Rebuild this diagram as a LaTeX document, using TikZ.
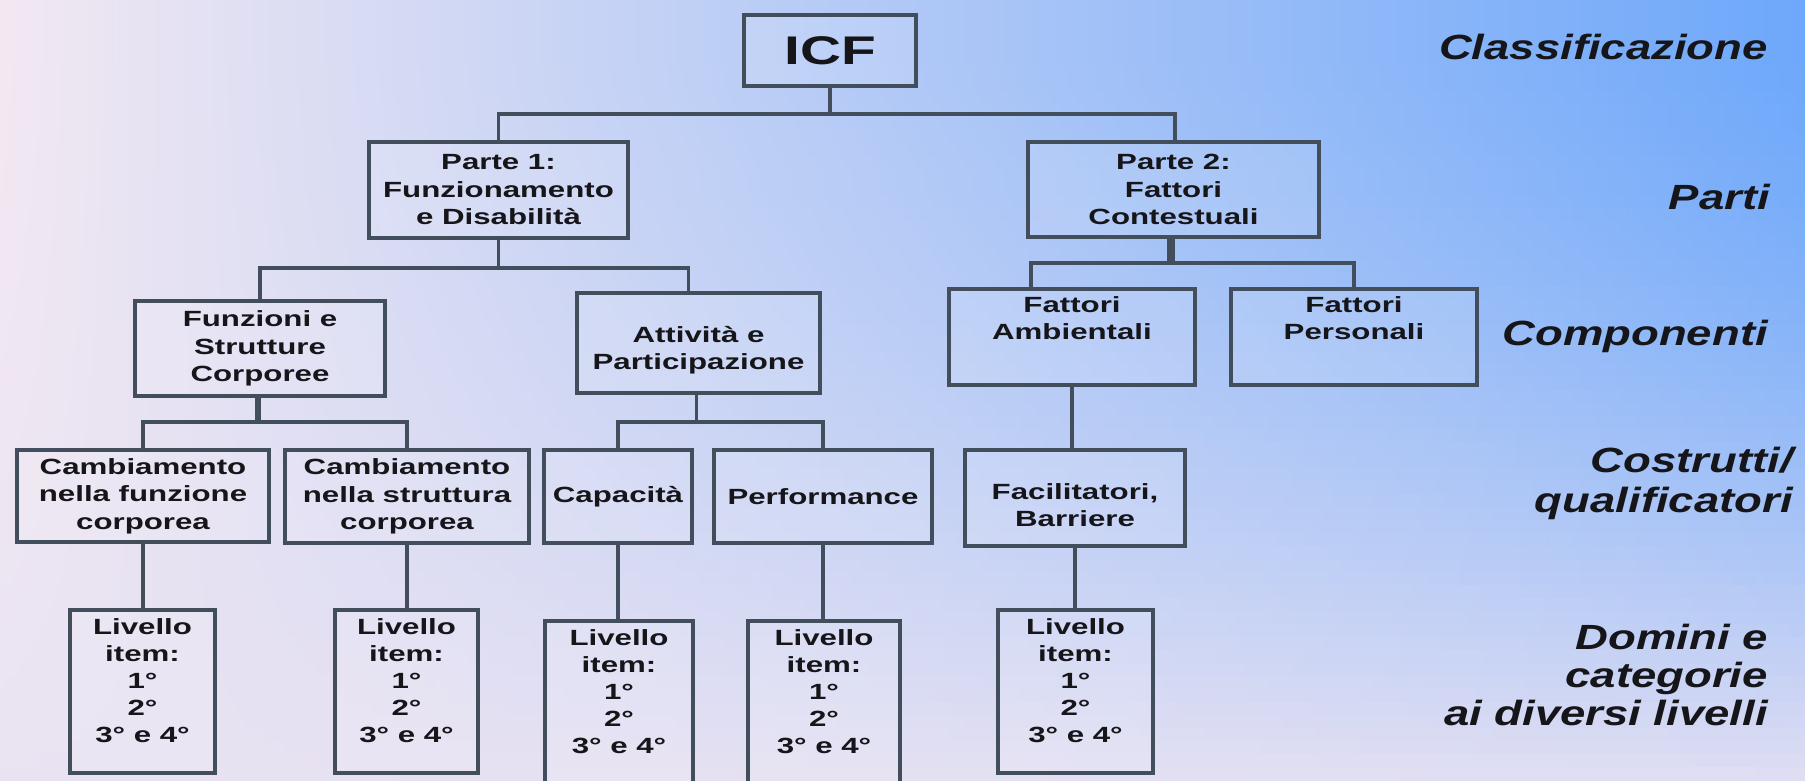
\documentclass[tikz,border=0pt]{standalone}
\usepackage{fontspec}
\newfontfamily\boxfont[FakeStretch=1.42]{Liberation Sans}
\newfontfamily\labfont[FakeStretch=1.3]{Liberation Sans}
\definecolor{bgA}{RGB}{242,232,242}
\definecolor{bgB}{RGB}{166,204,247}
\definecolor{bgC}{RGB}{110,168,250}
\definecolor{bgL}{RGB}{232,226,242}
\definecolor{edge}{RGB}{66,78,92}
\definecolor{ink}{RGB}{22,22,26}
\begin{document}
\begin{tikzpicture}[x=1pt,y=-1pt,
  box/.style={draw=edge, line width=3.5pt, fill=white, fill opacity=0.12, text opacity=1,
    inner sep=0pt, text=ink, align=center, font=\boxfont\bfseries\fontsize{22}{27.5}\selectfont},
  txt/.style={inner sep=0pt, text=ink, align=center, font=\boxfont\bfseries\fontsize{22}{27}\selectfont},
  conn/.style={draw=edge, line width=3.5pt},
  stem/.style={draw=edge, line width=8pt},
  lab/.style={inner sep=0pt, align=right, text=ink, font=\labfont\bfseries\itshape\fontsize{35}{39}\selectfont}]
\useasboundingbox (0,0) rectangle (1805,781);
\clip (0,0) rectangle (1805,781);
% background: horizontal gradient, fading to lavender towards the bottom
\foreach \i [evaluate=\i as \t using {int(92*pow(\i/59,1.7))}] in {0,...,59}{
  \shade[left color=bgL!\t!bgA, middle color=bgL!\t!bgB, right color=bgL!\t!bgC]
    (0,{\i*13.0167}) rectangle (1805,{(\i+1)*13.0167+1.5});
}

% level 0
\node[box, minimum width=172, minimum height=71, font=\boxfont\bfseries\fontsize{40}{44}\selectfont] (icf) at (830,50.5) {ICF};
% parts
\node[box, minimum width=259, minimum height=96] (p1) at (498.5,190) {Parte 1:\\Funzionamento\\e Disabilità};
\node[box, minimum width=291, minimum height=95] (p2) at (1173.5,189.5) {Parte 2:\\Fattori\\Contestuali};
% components
\node[box, minimum width=250, minimum height=95] (fsc) at (260,348.5) {Funzioni e\\Strutture\\Corporee};
\node[box, minimum width=243, minimum height=100] (att) at (698.5,343) {};
\node[txt] (att-t) at (698.5,350) {Attività e\\Participazione};
\node[box, minimum width=246, minimum height=96] (fa) at (1072,337) {};
\node[txt, anchor=north] (fa-t) at (1072,296) {Fattori\\Ambientali};
\node[box, minimum width=246, minimum height=96] (fp) at (1354,337) {};
\node[txt, anchor=north] (fp-t) at (1354,296) {Fattori\\Personali};
% constructs
\node[box, minimum width=252, minimum height=92] (cf) at (143,496) {Cambiamento\\nella funzione\\corporea};
\node[box, minimum width=244, minimum height=93] (cs) at (407,496.5) {Cambiamento\\nella struttura\\corporea};
\node[box, minimum width=148, minimum height=93] (cap) at (618,496.5) {Capacità};
\node[box, minimum width=218, minimum height=93] (perf) at (823,496.5) {Performance};
\node[box, minimum width=220, minimum height=96] (fac) at (1075,498) {};
\node[txt] (fac-t) at (1075,505) {Facilitatori,\\Barriere};
% domains
\node[box, minimum width=145, minimum height=163] (l1) at (142.5,691.5) {};
\node[txt, anchor=north] (l1-t) at (142.5,618) {Livello\\item:\\1°\\2°\\3° e 4°};
\node[box, minimum width=143, minimum height=163] (l2) at (406.5,691.5) {};
\node[txt, anchor=north] (l2-t) at (406.5,618) {Livello\\item:\\1°\\2°\\3° e 4°};
\node[box, minimum width=148, minimum height=179] (l3) at (619,710.5) {};
\node[txt, anchor=north] (l3-t) at (619,629) {Livello\\item:\\1°\\2°\\3° e 4°};
\node[box, minimum width=152, minimum height=179] (l4) at (824,710.5) {};
\node[txt, anchor=north] (l4-t) at (824,629) {Livello\\item:\\1°\\2°\\3° e 4°};
\node[box, minimum width=155, minimum height=163] (l5) at (1075.5,691.5) {};
\node[txt, anchor=north] (l5-t) at (1075.5,618) {Livello\\item:\\1°\\2°\\3° e 4°};

% connectors
\draw[conn] (icf.south) -- (icf.south |- 0,114) -| (p1.north);
\draw[conn] (icf.south |- 0,114) -| ([xshift=1.5pt]p2.north);
\draw[conn] (p1.south) -- (p1.south |- 0,268) -| (fsc.north);
\draw[conn] (p1.south |- 0,268) -| ([xshift=-10pt]att.north);
\draw[stem] ([xshift=-3pt]p2.south) -- ([xshift=-3pt]p2.south |- 0,263);
\draw[conn] ([xshift=-41pt]fa.north) |- (fp.north |- 0,263) -- (fp.north);
\draw[conn, line width=6pt] ([xshift=-2pt]fsc.south) -- ([xshift=-2pt]fsc.south |- 0,422);
\draw[conn] (cf.north) |- (cs.north |- 0,422) -- (cs.north);
\draw[conn] ([xshift=-2pt]att.south) -- ([xshift=-2pt]att.south |- 0,422);
\draw[conn] (cap.north) |- (perf.north |- 0,422) -- (perf.north);
\draw[conn] (fa.south) -- (fa.south |- fac.north);
\draw[conn] (cf.south) -- (cf.south |- l1.north);
\draw[conn] (cs.south) -- (cs.south |- l2.north);
\draw[conn] (cap.south) -- (cap.south |- l3.north);
\draw[conn] (perf.south) -- (perf.south |- l4.north);
\draw[conn] (fac.south) -- (fac.south |- l5.north);

% level labels
\node[lab, anchor=base east] (lcl) at (1768,59.5) {Classificazione};
\node[lab, anchor=base east] (lpa) at (1770,209.5) {Parti};
\node[lab, anchor=base east] (lco) at (1768,345.5) {Componenti};
\node[lab, anchor=north east, font=\labfont\bfseries\itshape\fontsize{35}{40}\selectfont] (lcq) at (1793,447) {Costrutti/\\qualificatori};
\node[lab, anchor=north east, font=\labfont\bfseries\itshape\fontsize{35}{38}\selectfont] (ldo) at (1768,624) {Domini e\\categorie\\ai diversi livelli};
\end{tikzpicture}
\end{document}
